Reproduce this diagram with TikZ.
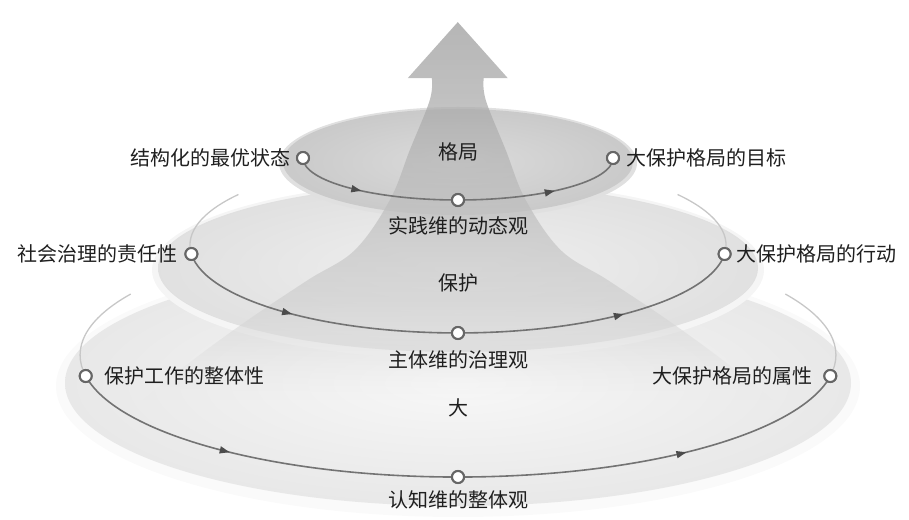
\documentclass[tikz,border=0pt]{standalone}
\usepackage{fontspec}
\newfontfamily\cjk{Noto Sans CJK SC}
\usetikzlibrary{decorations.markings,arrows.meta,fadings}
\pgfdeclareverticalshading{arrowfadeshade}{100bp}{color(0bp)=(black); color(25bp)=(black); color(31bp)=(gray); color(38bp)=(white); color(100bp)=(white)}
\pgfdeclarefading{arrowfade}{\pgfuseshading{arrowfadeshade}}
\begin{document}
\begin{tikzpicture}[x=1pt,y=1pt,
  lab/.style={font=\cjk\fontsize{20}{24}\selectfont, text=black!88, inner sep=0pt},
  dot/.style={circle, draw=black!60, line width=2pt, fill=white, minimum size=12pt, inner sep=0pt},
  orbit/.style={draw=black!55, line width=1.6pt},
  fadeorbit/.style={draw=black!22, line width=1.3pt},
  marks/.style={postaction={decorate}, decoration={markings,
      mark=at position 0.21 with {\arrow{Triangle[length=10pt,width=7pt,color=black!70]}},
      mark=at position 0.79 with {\arrow{Triangle[length=10pt,width=7pt,color=black!70]}}}},
]
\useasboundingbox (0,0) rectangle (909,519);
% discs
\fill[black!2] (458,133) ellipse[x radius=402, y radius=131];
\shade[inner color=black!3, outer color=black!9] (458,136) ellipse[x radius=393, y radius=123];
\fill[black!4] (458,249) ellipse[x radius=306, y radius=89];
\shade[inner color=black!6, outer color=black!12] (458,251) ellipse[x radius=300, y radius=84];
\fill[black!12] (458,356) ellipse[x radius=179, y radius=56];
\shade[inner color=black!14, outer color=black!21] (458,357) ellipse[x radius=175, y radius=53];
% big arrow
\shade[top color=black!40, bottom color=black!10, opacity=.72, path fading=arrowfade]
  (458,497) -- (508,441) -- (484,441)
  -- plot[smooth, tension=.6] coordinates {(484,441) (486,419) (506,369) (526,319) (561,269) (608,239) (668,199) (723,159) (773,119)}
  -- plot[smooth, tension=.6] coordinates {(143,119) (193,159) (248,199) (308,239) (355,269) (390,319) (410,369) (430,419) (432,441)}
  -- (408,441) -- cycle;
% nodes
\node[dot] (t1) at (303,361) {};
\node[dot] (t2) at (458,319) {};
\node[dot] (t3) at (613,361) {};
\node[dot] (m1) at (191.4,265) {};
\node[dot] (m2) at (458,186) {};
\node[dot] (m3) at (724.6,265) {};
\node[dot] (b1) at (85.7,143) {};
\node[dot] (b2) at (458,42) {};
\node[dot] (b3) at (830.3,143) {};
% orbits
\draw[fadeorbit] (m1.center) arc[start angle=185.9, end angle=145, x radius=268, y radius=88];
\draw[fadeorbit] (m3.center) arc[start angle=354.1, end angle=395, x radius=268, y radius=88];
\draw[fadeorbit] (b1.center) arc[start angle=189.9, end angle=150, x radius=378, y radius=122];
\draw[fadeorbit] (b3.center) arc[start angle=350.1, end angle=390, x radius=378, y radius=122];
\draw[orbit, marks] (t1.center) arc[start angle=180, end angle=360, x radius=155, y radius=42];
\draw[orbit, marks] (m1.center) arc[start angle=185.9, end angle=354.1, x radius=268, y radius=88];
\draw[orbit, marks] (b1.center) arc[start angle=189.9, end angle=350.1, x radius=378, y radius=122];
% dots on top of orbits
\foreach \n in {t1,t2,t3,m1,m2,m3,b1,b2,b3}
  \draw[black!60, line width=2pt, fill=white] (\n.center) circle[radius=6pt];
% labels
\node[lab] (l1) at (458,367) {格局};
\node[lab, anchor=east] (l2) at (291,361) {结构化的最优状态};
\node[lab, anchor=west] (l3) at (626,361) {大保护格局的目标};
\node[lab] (l4) at (458,293) {实践维的动态观};
\node[lab, anchor=east] (l5) at (178,265) {社会治理的责任性};
\node[lab, anchor=west] (l6) at (736,265) {大保护格局的行动};
\node[lab] (l7) at (458,236) {保护};
\node[lab] (l8) at (458,159) {主体维的治理观};
\node[lab, anchor=west] (l9) at (104,143) {保护工作的整体性};
\node[lab, anchor=east] (l10) at (813,143) {大保护格局的属性};
\node[lab] (l11) at (458,111) {大};
\node[lab] (l12) at (458,19) {认知维的整体观};
\end{tikzpicture}
\end{document}
